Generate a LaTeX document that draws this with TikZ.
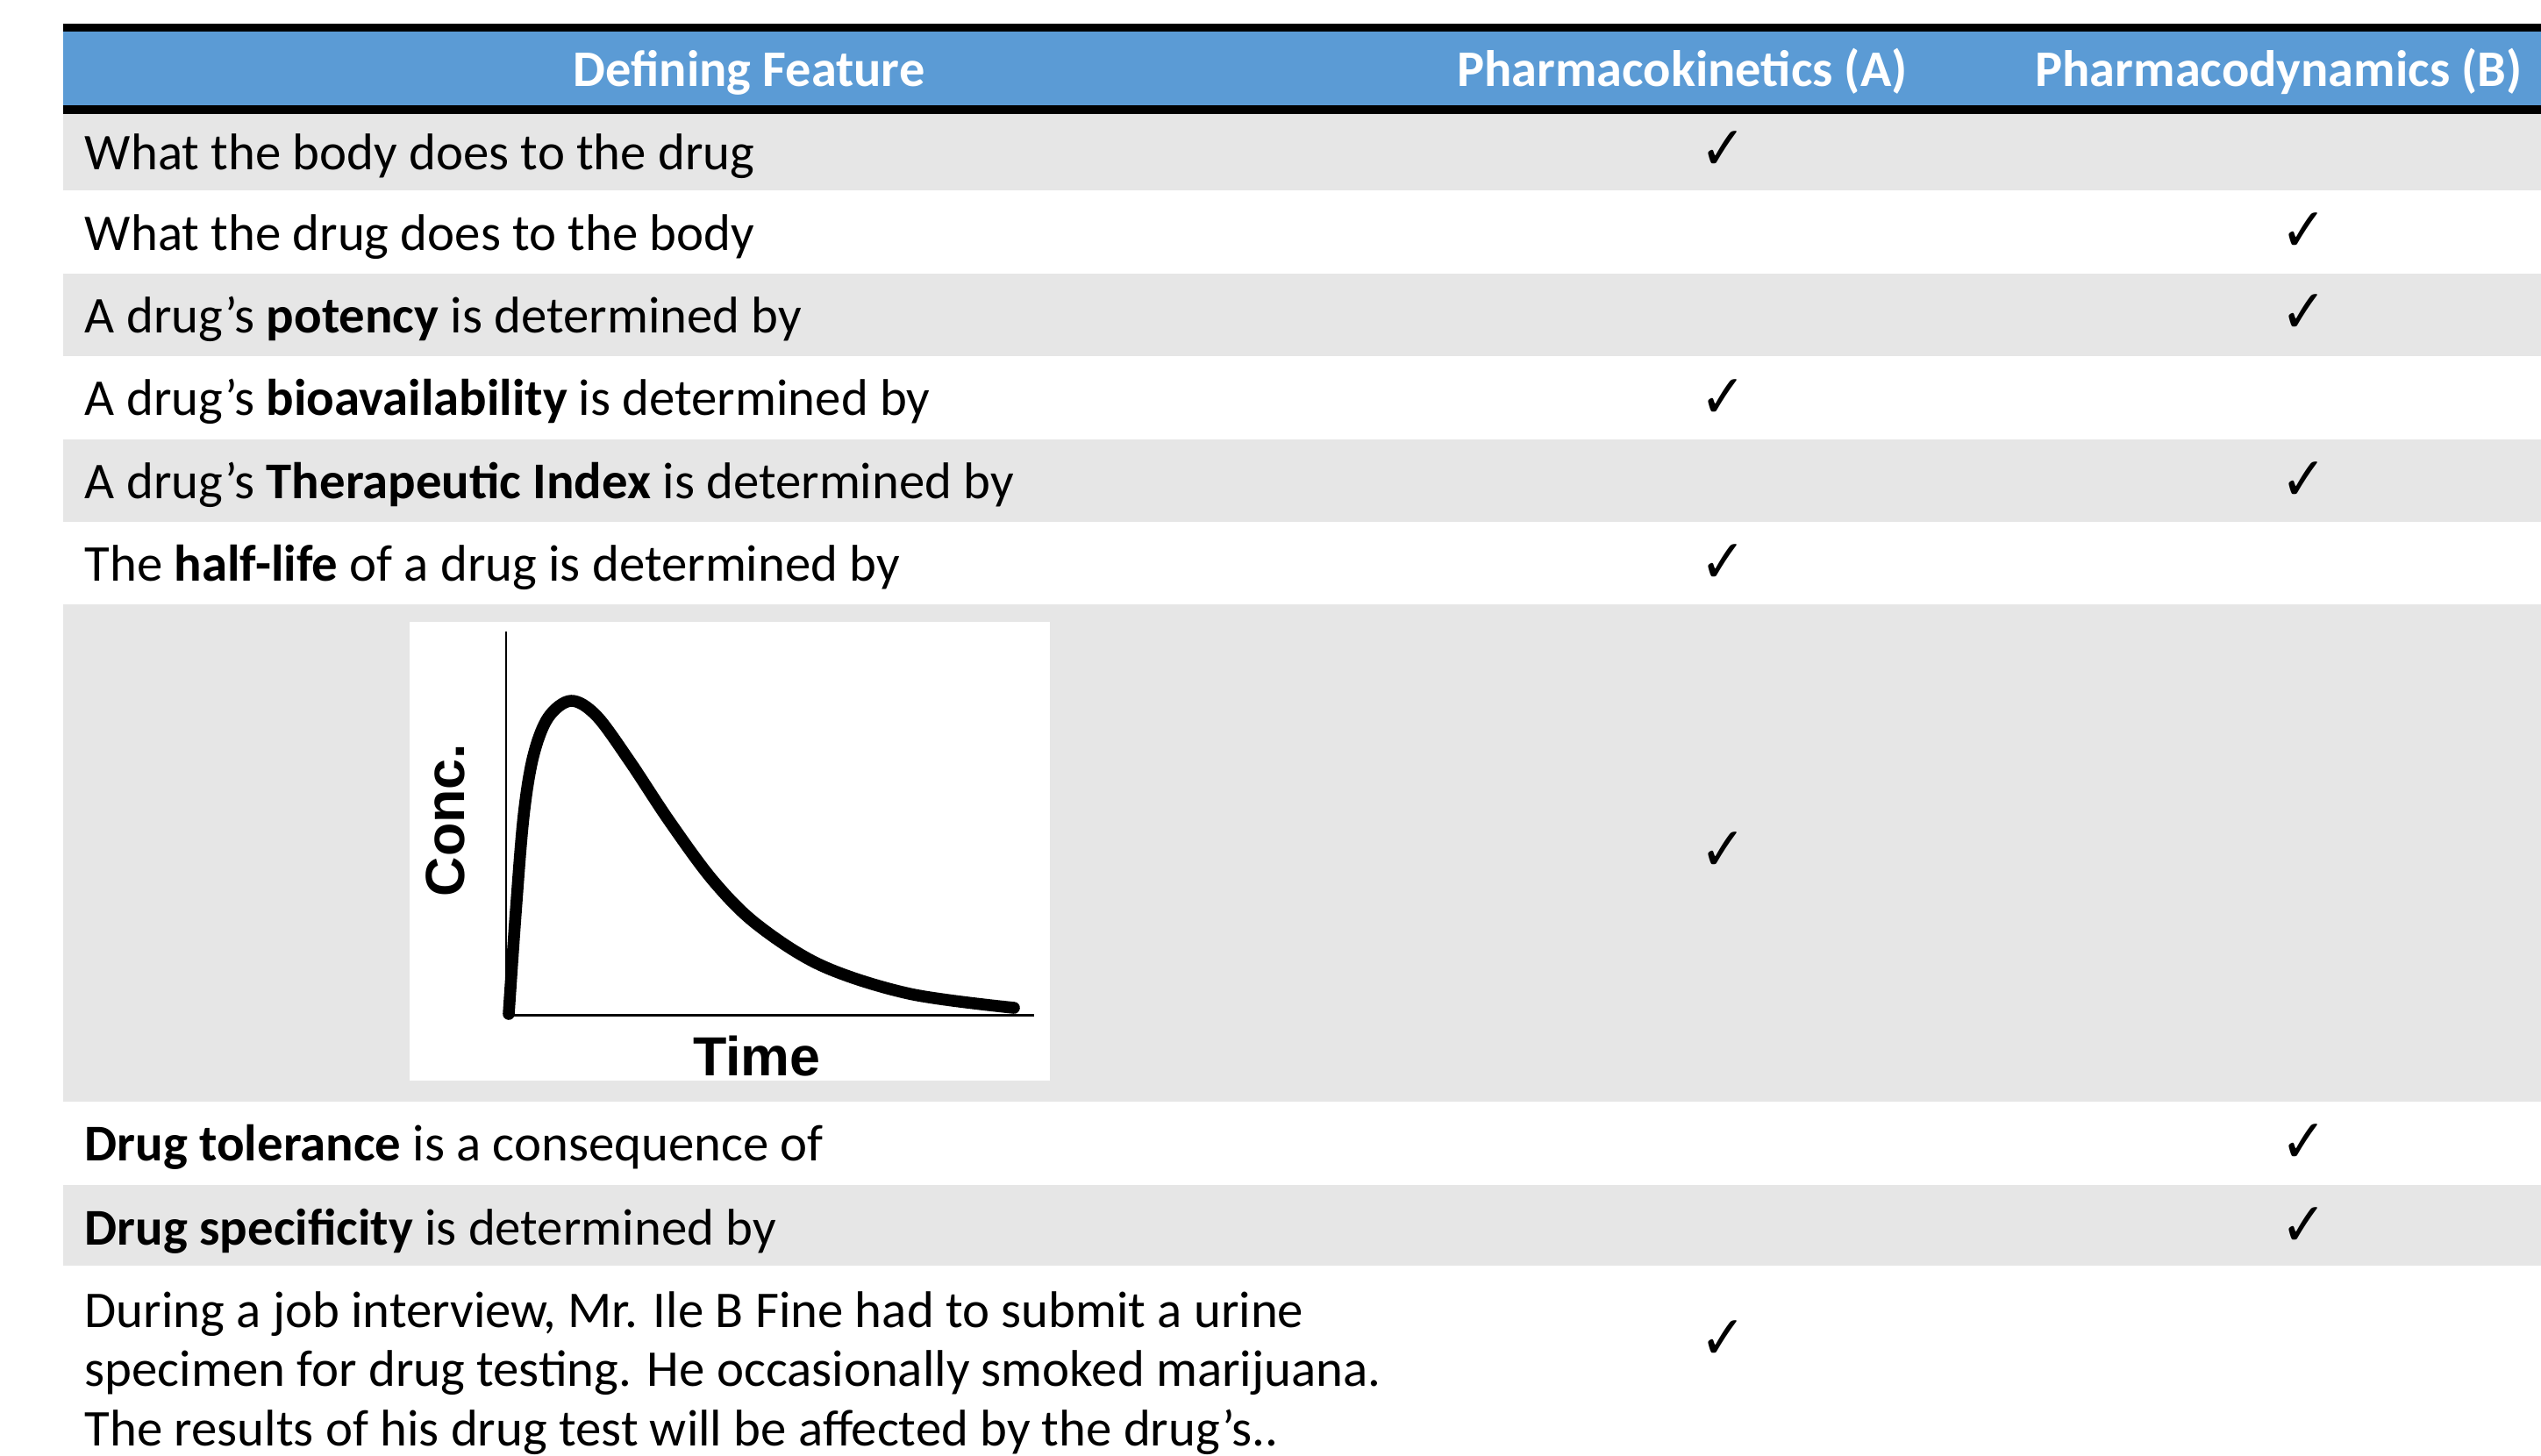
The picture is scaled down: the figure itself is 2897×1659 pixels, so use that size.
\documentclass[tikz,border=0pt]{standalone}
\usepackage{fontspec}
\setmainfont{Carlito}
\newfontfamily\graphfont{Liberation Sans}
\newfontfamily\symfont{DejaVu Sans}
\definecolor{hdrblue}{RGB}{91,155,213}
\definecolor{rowgray}{RGB}{230,230,230}
\tikzset{
  grayrow/.style={fill=rowgray},
  cell/.style={anchor=base west, inner sep=0pt, font=\fontsize{14.7}{17}\selectfont},
  hdr/.style={anchor=base, inner sep=0pt, text=white, font=\fontsize{14.6}{17}\selectfont\bfseries},
  chk/.style={inner sep=0pt, xscale=0.9, font=\symfont\fontsize{17.4}{18}\selectfont},
  axislbl/.style={inner sep=0pt, font=\graphfont\bfseries\fontsize{15.7}{16}\selectfont},
}
\begin{document}
\begin{tikzpicture}[x=0.25pt,y=-0.25pt]
\useasboundingbox[fill=white] (0,0) rectangle (2897,1659);
% header
\fill[black] (72,27) rectangle (2897,36);
\fill[hdrblue] (72,36) rectangle (2897,120);
\fill[black] (72,120) rectangle (2897,130);
\node[hdr] (h1) at (854,98) {Defining Feature};
\node[hdr] (h2) at (1918,98) {Pharmacokinetics (A)};
\node[hdr] (h3) at (2598,98) {Pharmacodynamics (B)};
% row backgrounds
\fill[grayrow] (72,130) rectangle (2897,217);
\fill[grayrow] (72,312) rectangle (2897,406);
\fill[grayrow] (72,501) rectangle (2897,595);
\fill[grayrow] (72,689) rectangle (2897,1256);
\fill[grayrow] (72,1351) rectangle (2897,1443);
% row texts
\node[cell] (r1) at (96,193) {What the body does to the drug};
\node[cell] (r2) at (96,285) {What the drug does to the body};
\node[cell] (r3) at (96,379) {A drug’s \textbf{potency} is determined by};
\node[cell] (r4) at (96,473) {A drug’s \textbf{bioavailability} is determined by};
\node[cell] (r5) at (96,568) {A drug’s \textbf{Therapeutic Index} is determined by};
\node[cell] (r6) at (96,662) {The \textbf{half-life} of a drug is determined by};
\node[cell] (r8) at (96,1323) {\textbf{Drug tolerance} is a consequence of};
\node[cell] (r9) at (96,1419) {\textbf{Drug specificity} is determined by};
\node[cell] (r10a) at (96,1513) {During a job interview, Mr. Ile B Fine had to submit a urine};
\node[cell] (r10b) at (96,1580) {specimen for drug testing. He occasionally smoked marijuana.};
\node[cell] (r10c) at (96,1648) {The results of his drug test will be affected by the drug’s..};
% checkmarks
\node[chk] (c1) at (1965,172) {✓};
\node[chk] (c2) at (2627,265) {✓};
\node[chk] (c3) at (2627,358) {✓};
\node[chk] (c4) at (1965,455) {✓};
\node[chk] (c5) at (2627,549) {✓};
\node[chk] (c6) at (1965,643) {✓};
\node[chk] (c7) at (1965,971) {✓};
\node[chk] (c8) at (2627,1304) {✓};
\node[chk] (c9) at (2627,1399) {✓};
\node[chk] (c10) at (1965,1528) {✓};
% graph
\fill[white] (467,709) rectangle (1197,1232);
\draw[line width=0.5pt] (577,720) -- (577,1158);
\draw[line width=0.75pt] (577,1157) -- (1179,1157);
\draw[line width=3.4pt, line cap=round, line join=round] plot[smooth, tension=0.55] coordinates {
 (580,1156) (588,1040) (597,930) (608,862) (625,818) (651,799) (680,816) (718,868)
 (763,936) (813,1004) (863,1054) (937,1101) (1037,1133) (1156,1149)};
\node[axislbl, rotate=90] (conc) at (508,935) {Conc.};
\node[axislbl, anchor=base] (time) at (863,1226) {Time};
\end{tikzpicture}
\end{document}
